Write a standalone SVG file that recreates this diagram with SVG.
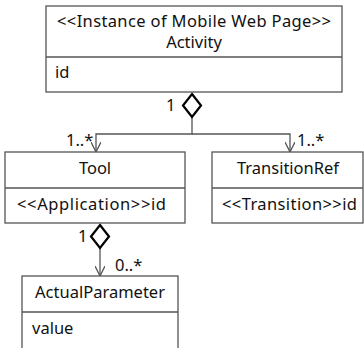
<svg xmlns="http://www.w3.org/2000/svg" width="364" height="348" viewBox="0 0 364 348">
<defs>
<style>
.box{fill:#fff;stroke:#555;stroke-width:1.3}
.div{stroke:#555;stroke-width:1.3}
.t{font-family:"Noto Sans","Open Sans",sans-serif;font-size:16.5px;fill:#111}
.c{text-anchor:middle}
.ln{fill:none;stroke:#555;stroke-width:1.3}
.dia{fill:#fff;stroke:#000;stroke-width:2.2}
</style>
<marker id="arr" viewBox="0 0 10 10" refX="10" refY="5" markerWidth="10" markerHeight="10" markerUnits="userSpaceOnUse" orient="auto">
<path d="M0,0 L10,5 L0,10" fill="none" stroke="#555" stroke-width="1.3"/>
</marker>
</defs>
<rect width="364" height="348" fill="#fff"/>
<g id="connectors">
<path class="ln" d="M192,117 V134 H96 V152" marker-end="url(#arr)"/>
<path class="ln" d="M192,134 H290 V152" marker-end="url(#arr)"/>
<polygon class="dia" points="192,94 201,105.5 192,117 183,105.5"/>
<text class="t" x="166" y="111">1</text>
<text class="t" x="66" y="146">1..*</text>
<text class="t" x="297" y="146">1..*</text>
<path class="ln" d="M100,248 V276" marker-end="url(#arr)"/>
<polygon class="dia" points="100,225 109,236.5 100,248 91,236.5"/>
<text class="t" x="78" y="242">1</text>
<text class="t" x="115" y="271">0..*</text>
</g>
<g id="activity">
<rect class="box" x="46" y="6" width="296" height="86"/>
<line class="div" x1="46" y1="57" x2="342" y2="57"/>
<text class="t c" x="194" y="27" textLength="274">&lt;&lt;Instance of Mobile Web Page&gt;&gt;</text>
<text class="t c" x="194" y="48">Activity</text>
<text class="t" x="55" y="78">id</text>
</g>
<g id="tool">
<rect class="box" x="5" y="152" width="180" height="71"/>
<line class="div" x1="5" y1="188" x2="185" y2="188"/>
<text class="t c" x="95" y="174">Tool</text>
<text class="t" x="17" y="210" textLength="149">&lt;&lt;Application&gt;&gt;id</text>
</g>
<g id="transitionref">
<rect class="box" x="212" y="152" width="151" height="71"/>
<line class="div" x1="212" y1="188" x2="363" y2="188"/>
<text class="t c" x="288" y="174">TransitionRef</text>
<text class="t" x="222" y="210" textLength="135">&lt;&lt;Transition&gt;&gt;id</text>
</g>
<g id="actualparameter">
<rect class="box" x="22" y="276" width="156" height="80"/>
<line class="div" x1="22" y1="312" x2="178" y2="312"/>
<text class="t c" x="100" y="298">ActualParameter</text>
<text class="t" x="32" y="334">value</text>
</g>
</svg>
